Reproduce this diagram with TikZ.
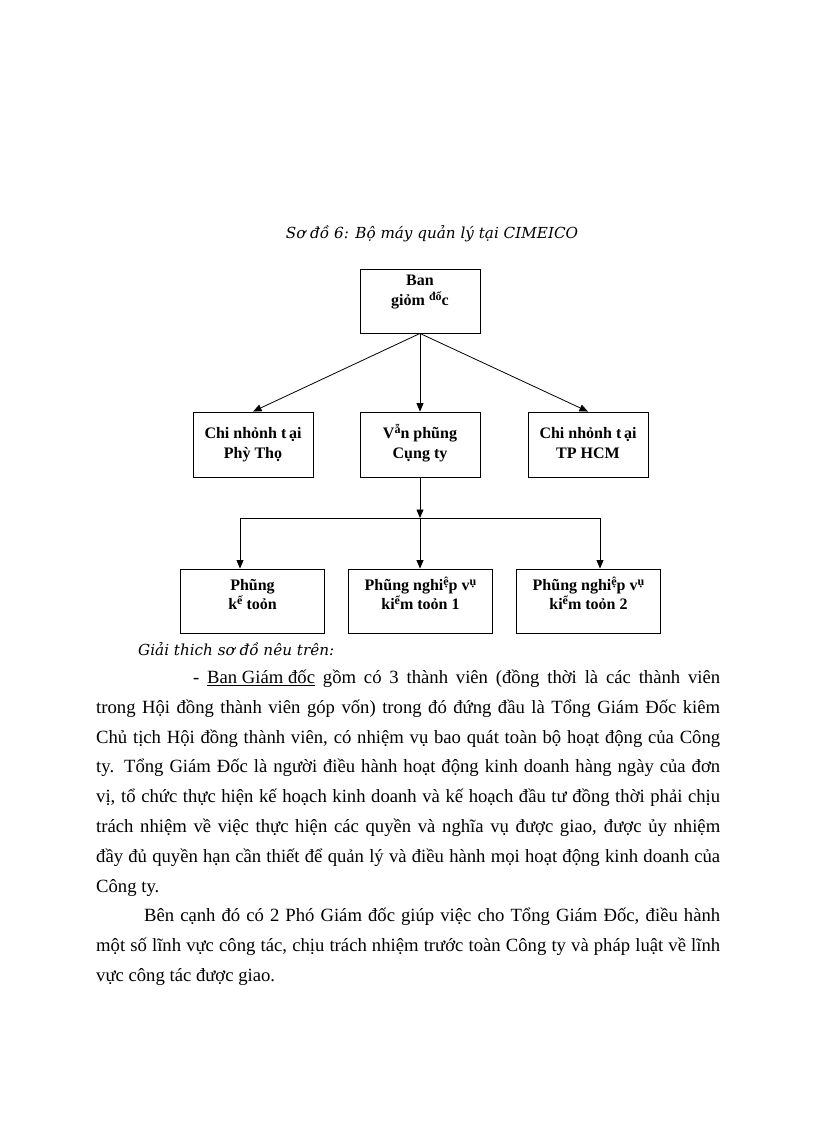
\documentclass[tikz,border=0pt]{standalone}
\usepackage{fontspec}
\setmainfont{Liberation Serif}
\newfontfamily\titlefont{DejaVu Serif}
\usetikzlibrary{arrows.meta}
\newcommand{\rs}[1]{\raisebox{0.3em}{\fontsize{12}{12}\selectfont #1}}
\newcommand{\boxtext}[5]{\parbox[c][#2][t]{#1}{\centering\lineskiplimit=-20pt\fontsize{16}{#4}\selectfont\rule{0pt}{#3}#5\par}}
\newcommand{\tline}[1]{\hbox to 624pt{#1}}
\tikzset{
  orgbox/.style={draw=black, line width=0.9pt, inner sep=0pt, font=\bfseries},
  conn/.style={line width=0.8pt, draw=black},
  arr/.style={conn, -{Triangle[length=8.5pt,width=7pt]}},
  ital/.style={font=\titlefont\itshape\fontsize{15.2}{17}\selectfont, inner sep=0pt},
}
\begin{document}
\begin{tikzpicture}[x=1pt,y=-1pt]
\path[use as bounding box, fill=white] (0,0) rectangle (816,1123);

\node[ital, anchor=base] (title) at (432,239) {Sơ đồ 6: Bộ máy quản lý tại CIMEICO};

\node[orgbox] (top) at (420,301) {\boxtext{120pt}{64pt}{16pt}{20.7pt}{Ban\\giỏm \rs{đố}c}};

\node[orgbox] (m1) at (253,444.5) {\boxtext{120pt}{65pt}{26.6pt}{20pt}{Chi nhỏnh t\,ại\\Phỳ Thọ}};
\node[orgbox] (m2) at (420,444.5) {\boxtext{120pt}{65pt}{26.6pt}{20pt}{V\rs{ẵ}n phũng\\Cụng ty}};
\node[orgbox] (m3) at (588,444.5) {\boxtext{120pt}{65pt}{26.6pt}{20pt}{Chi nhỏnh t\,ại\\TP HCM}};

\node[orgbox] (b1) at (252.5,601) {\boxtext{144pt}{64pt}{21.7pt}{19pt}{Phũng\\k\rs{ế} toỏn}};
\node[orgbox] (b2) at (420.5,601) {\boxtext{144pt}{64pt}{21.7pt}{19pt}{Phũng nghi\rs{ệ}p v\rs{ụ}\\ki\rs{ể}m toỏn 1}};
\node[orgbox] (b3) at (588.5,601) {\boxtext{144pt}{64pt}{21.7pt}{19pt}{Phũng nghi\rs{ệ}p v\rs{ụ}\\ki\rs{ể}m toỏn 2}};

\draw[arr] (top.south) -- (m1.north);
\draw[arr] (top.south) -- (m2.north);
\draw[arr] (top.south) -- (m3.north);

\coordinate (j) at (420,518);
\coordinate (jl) at (240,518);
\coordinate (jr) at (600,518);
\draw[arr] (m2.south) -- (j);
\draw[conn] (jl) -- (jr);
\draw[arr] (jl) -- (b1.north -| jl);
\draw[arr] (j) -- (b2.north -| j);
\draw[arr] (jr) -- (b3.north -| jr);

\node[ital, anchor=base west] (expl) at (138,655) {Giải thich sơ đồ nêu trên:};

\node[inner sep=0pt, anchor=base west] (body) at (96,683.5) {\parbox[t]{624pt}{\fontsize{18.67}{29.8}\selectfont\lineskiplimit=-100pt
\tline{\hspace{97pt}- \underline{Ban Giám đốc} gồm có 3 thành viên (đồng thời là các thành viên}
\tline{trong Hội đồng thành viên góp vốn) trong đó đứng đầu là Tổng Giám Đốc kiêm}
\tline{Chủ tịch Hội đồng thành viên, có nhiệm vụ bao quát toàn bộ hoạt động của Công}
\tline{ty. Tổng Giám Đốc là người điều hành hoạt động kinh doanh hàng ngày của đơn}
\tline{vị, tổ chức thực hiện kế hoạch kinh doanh và kế hoạch đầu tư đồng thời phải chịu}
\tline{trách nhiệm về việc thực hiện các quyền và nghĩa vụ được giao, được ủy nhiệm}
\tline{đầy đủ quyền hạn cần thiết để quản lý và điều hành mọi hoạt động kinh doanh của}
\hbox{Công ty.}
\tline{\hspace{48pt}Bên cạnh đó có 2 Phó Giám đốc giúp việc cho Tổng Giám Đốc, điều hành}
\tline{một số lĩnh vực công tác, chịu trách nhiệm trước toàn Công ty và pháp luật về lĩnh}
\hbox{vực công tác được giao.}
}};
\end{tikzpicture}
\end{document}
